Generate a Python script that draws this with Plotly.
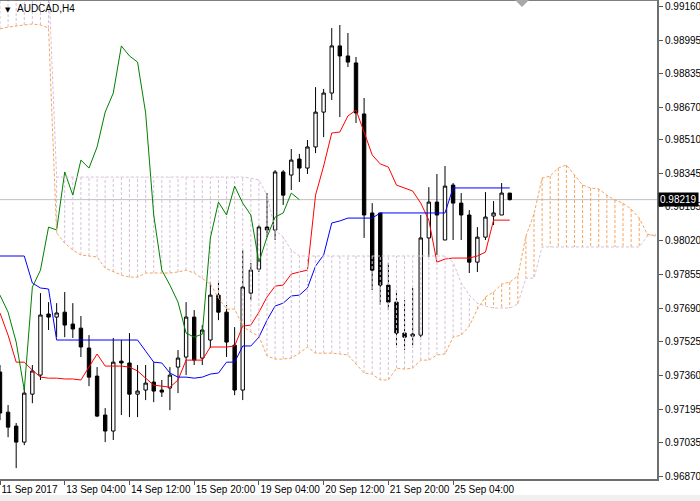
import plotly.graph_objects as go

symbol = "AUDCAD,H4"
last_price = 0.98219
chikou_shift = 26

bar_index = list(range(64))
open_ = [0.97378, 0.97182, 0.97114, 0.97036, 0.97270, 0.97363, 0.97661, 0.97646, 0.97670, 0.97612,
         0.97592, 0.97495, 0.97358, 0.97168, 0.97090, 0.97431, 0.97422, 0.97270, 0.97290, 0.97329,
         0.97290, 0.97300, 0.97402, 0.97451, 0.97646, 0.97446, 0.97534, 0.97753, 0.97670, 0.97509,
         0.97290, 0.97763, 0.97880, 0.98085, 0.98071, 0.98354, 0.98339, 0.98417, 0.98373, 0.98476,
         0.98646, 0.98739, 0.98969, 0.98920, 0.98886, 0.98637, 0.98154, 0.98154, 0.97802, 0.97719,
         0.97568, 0.97553, 0.97558, 0.98032, 0.98207, 0.98022, 0.98290, 0.98202, 0.98144, 0.97914,
         0.98036, 0.98139, 0.98144, 0.98251]
high = [0.97412, 0.97217, 0.97129, 0.97300, 0.97412, 0.97763, 0.97719, 0.97714, 0.97768, 0.97714,
        0.97651, 0.97558, 0.97402, 0.97202, 0.97544, 0.97534, 0.97568, 0.97412, 0.97412, 0.97426,
        0.97339, 0.97402, 0.97485, 0.97719, 0.97680, 0.97607, 0.97817, 0.97817, 0.97705, 0.97597,
        0.97973, 0.97910, 0.98095, 0.98251, 0.98363, 0.98363, 0.98466, 0.98442, 0.98510, 0.98768,
        0.98759, 0.99056, 0.99071, 0.99032, 0.98915, 0.98715, 0.98202, 0.97988, 0.97910, 0.97778,
        0.97729, 0.97788, 0.98144, 0.98280, 0.98344, 0.98383, 0.98300, 0.98251, 0.98168, 0.98085,
        0.98256, 0.98212, 0.98300, 0.98251]
low = [0.97143, 0.97060, 0.96909, 0.97021, 0.97226, 0.97339, 0.97583, 0.97548, 0.97548, 0.97544,
       0.97451, 0.97309, 0.97158, 0.97036, 0.97046, 0.97168, 0.97158, 0.97158, 0.97241, 0.97231,
       0.97256, 0.97192, 0.97275, 0.97363, 0.97412, 0.97412, 0.97495, 0.97631, 0.97451, 0.97265,
       0.97241, 0.97729, 0.97866, 0.98036, 0.98022, 0.98193, 0.98266, 0.98305, 0.98344, 0.98446,
       0.98524, 0.98705, 0.98622, 0.98866, 0.98593, 0.98032, 0.97778, 0.97705, 0.97680, 0.97509,
       0.97485, 0.97509, 0.97548, 0.97939, 0.97949, 0.98022, 0.98022, 0.98022, 0.97861, 0.97866,
       0.98022, 0.98095, 0.98144, 0.98215]
close = [0.97178, 0.97109, 0.97036, 0.97275, 0.97383, 0.97656, 0.97646, 0.97666, 0.97607, 0.97588,
         0.97500, 0.97353, 0.97163, 0.97090, 0.97426, 0.97422, 0.97270, 0.97285, 0.97324, 0.97285,
         0.97280, 0.97363, 0.97446, 0.97646, 0.97436, 0.97583, 0.97753, 0.97670, 0.97524, 0.97290,
         0.97792, 0.97875, 0.98085, 0.98071, 0.98354, 0.98241, 0.98412, 0.98373, 0.98476, 0.98646,
         0.98739, 0.98969, 0.98920, 0.98890, 0.98642, 0.98144, 0.97875, 0.97802, 0.97719, 0.97568,
         0.97548, 0.97563, 0.98032, 0.98207, 0.98144, 0.98285, 0.98202, 0.98144, 0.97914, 0.98036,
         0.98134, 0.98154, 0.98251, 0.98219]

tenkan = [0.97666, 0.97558, 0.97426, 0.97426, 0.97387, 0.97353, 0.97348, 0.97348, 0.97344, 0.97344,
          0.97339, 0.97402, 0.97466, 0.97407, 0.97407, 0.97407, 0.97402, 0.97383, 0.97348, 0.97314,
          0.97309, 0.97304, 0.97339, 0.97436, 0.97436, 0.97436, 0.97500, 0.97500, 0.97500, 0.97505,
          0.97602, 0.97607, 0.97670, 0.97744, 0.97797, 0.97802, 0.97856, 0.97866, 0.97875, 0.98241,
          0.98383, 0.98544, 0.98549, 0.98627, 0.98656, 0.98549, 0.98437, 0.98393, 0.98378, 0.98290,
          0.98276, 0.98261, 0.98202, 0.98119, 0.97914, 0.97929, 0.97934, 0.97934, 0.97934, 0.97944,
          0.97963, 0.98119, 0.98119, 0.98119]
kijun = [0.97944, 0.97944, 0.97944, 0.97944, 0.97812, 0.97788, 0.97783, 0.97534, 0.97534, 0.97534,
         0.97534, 0.97534, 0.97534, 0.97534, 0.97534, 0.97534, 0.97534, 0.97534, 0.97480, 0.97426,
         0.97422, 0.97373, 0.97353, 0.97353, 0.97348, 0.97353, 0.97368, 0.97373, 0.97426, 0.97426,
         0.97505, 0.97505, 0.97548, 0.97631, 0.97700, 0.97714, 0.97749, 0.97753, 0.97788, 0.97895,
         0.97949, 0.98105, 0.98115, 0.98129, 0.98129, 0.98129, 0.98129, 0.98154, 0.98154, 0.98154,
         0.98154, 0.98154, 0.98154, 0.98154, 0.98154, 0.98154, 0.98276, 0.98276, 0.98276, 0.98276,
         0.98276, 0.98276, 0.98276, 0.98276]

# Senkou spans, one value per bar slot 0..81 (already shifted forward)
span_a = [0.99052, 0.99061, 0.99066, 0.99071, 0.99076, 0.99071, 0.99056, 0.98056, 0.98007, 0.97973,
          0.97949, 0.97944, 0.97939, 0.97885, 0.97866, 0.97851, 0.97841, 0.97841, 0.97861, 0.97861,
          0.97861, 0.97861, 0.97866, 0.97875, 0.97861, 0.97836, 0.97807, 0.97739, 0.97685, 0.97685,
          0.97602, 0.97573, 0.97553, 0.97456, 0.97441, 0.97441, 0.97446, 0.97470, 0.97500, 0.97470,
          0.97470, 0.97470, 0.97466, 0.97461, 0.97417, 0.97373, 0.97368, 0.97339, 0.97339, 0.97397,
          0.97392, 0.97397, 0.97436, 0.97436, 0.97461, 0.97466, 0.97548, 0.97558, 0.97602, 0.97685,
          0.97744, 0.97768, 0.97807, 0.97817, 0.97846, 0.98041, 0.98149, 0.98324, 0.98334, 0.98373,
          0.98388, 0.98339, 0.98290, 0.98276, 0.98271, 0.98241, 0.98217, 0.98202, 0.98173, 0.98129,
          0.98051, 0.98041]
span_b = [0.99291, 0.99291, 0.99291, 0.99291, 0.99291, 0.99291, 0.99291, 0.98329, 0.98329, 0.98329,
          0.98329, 0.98329, 0.98329, 0.98329, 0.98329, 0.98329, 0.98329, 0.98329, 0.98329, 0.98329,
          0.98329, 0.98329, 0.98329, 0.98329, 0.98329, 0.98329, 0.98329, 0.98329, 0.98329, 0.98329,
          0.98329, 0.98324, 0.98315, 0.98241, 0.98071, 0.98036, 0.97973, 0.97944, 0.97944, 0.97944,
          0.97944, 0.97944, 0.97944, 0.97944, 0.97944, 0.97944, 0.97944, 0.97944, 0.97944, 0.97944,
          0.97944, 0.97944, 0.97944, 0.97944, 0.97944, 0.97944, 0.97914, 0.97812, 0.97753, 0.97714,
          0.97700, 0.97690, 0.97690, 0.97690, 0.97710, 0.97836, 0.97836, 0.97988, 0.97988, 0.97988,
          0.97988, 0.97988, 0.97988, 0.97988, 0.97988, 0.97988, 0.97988, 0.97988, 0.97988, 0.97988,
          0.98041, 0.98051]

x_tick_pos = [0, 8, 16, 24, 32, 40, 48, 56]
x_tick_labels = ["11 Sep 2017", "13 Sep 04:00", "14 Sep 12:00", "15 Sep 20:00",
                 "19 Sep 04:00", "20 Sep 12:00", "21 Sep 20:00", "25 Sep 04:00"]
y_tick_vals = [0.96870, 0.97035, 0.97195, 0.97360, 0.97525, 0.97690, 0.97855, 0.98020,
               0.98185, 0.98345, 0.98510, 0.98670, 0.98835, 0.98995, 0.99160]
y_tick_labels = ["0.96870", "0.97035", "0.97195", "0.97360", "0.97525", "0.97690", "0.97855",
                 "0.98020", "0.98185", "0.98345", "0.98510", "0.98670", "0.98835", "0.98995",
                 "0.99160"]

FONT = "Liberation Sans, Arial, sans-serif"
DASH = "3px,2px"

fig = go.Figure()

fig.add_trace(go.Candlestick(
    x=bar_index, open=open_, high=high, low=low, close=close,
    increasing=dict(fillcolor="white", line=dict(color="black", width=1)),
    decreasing=dict(fillcolor="black", line=dict(color="black", width=1)),
    whiskerwidth=0, hoverinfo="skip"))

fig.add_trace(go.Scatter(x=bar_index, y=tenkan, mode="lines",
                         line=dict(color="#ff0000", width=1), hoverinfo="skip"))
fig.add_trace(go.Scatter(x=bar_index, y=kijun, mode="lines",
                         line=dict(color="#0000ff", width=1), hoverinfo="skip"))

# cloud hatching
up_x, up_y, dn_x, dn_y = [], [], [], []
for j, (a, b) in enumerate(zip(span_a, span_b)):
    if a >= b:
        up_x += [j, j, None]
        up_y += [a, b, None]
    else:
        dn_x += [j, j, None]
        dn_y += [a, b, None]
fig.add_trace(go.Scatter(x=up_x, y=up_y, mode="lines", connectgaps=False,
                         line=dict(color="#F4A460", width=1, dash=DASH), hoverinfo="skip"))
fig.add_trace(go.Scatter(x=dn_x, y=dn_y, mode="lines", connectgaps=False,
                         line=dict(color="#D8BFD8", width=1, dash=DASH), hoverinfo="skip"))

# chikou span
fig.add_trace(go.Scatter(x=[i - chikou_shift for i in bar_index[chikou_shift:]],
                         y=close[chikou_shift:], mode="lines",
                         line=dict(color="#008000", width=1), hoverinfo="skip"))

span_x = list(range(len(span_a)))
fig.add_trace(go.Scatter(x=span_x, y=span_a, mode="lines",
                         line=dict(color="#F4A460", width=1, dash=DASH), hoverinfo="skip"))
fig.add_trace(go.Scatter(x=span_x, y=span_b, mode="lines",
                         line=dict(color="#D8BFD8", width=1, dash=DASH), hoverinfo="skip"))

fig.update_layout(
    width=700, height=501,
    margin=dict(l=0, r=43, t=0, b=22, autoexpand=False),
    paper_bgcolor="white", plot_bgcolor="white",
    showlegend=False, boxgap=0.4,
    font=dict(family=FONT, size=10, color="black"),
    xaxis=dict(range=[0, 81.2], showgrid=False, zeroline=False, rangeslider=dict(visible=False),
               tickvals=x_tick_pos, ticktext=x_tick_labels, ticks="outside", ticklen=4,
               tickangle=0, automargin=False,
               tickcolor="#555555", ticklabelposition="outside right",
               showline=True, linecolor="#6e6e6e", linewidth=2,
               tickfont=dict(family=FONT, size=10, color="black")),
    yaxis=dict(range=[0.96856, 0.99193], side="right", showgrid=False, zeroline=False,
               automargin=False,
               tickvals=y_tick_vals, ticktext=y_tick_labels, ticks="outside", ticklen=4,
               tickcolor="#555555", showline=True, linecolor="#6e6e6e", linewidth=2,
               tickfont=dict(family=FONT, size=10, color="black")),
    shapes=[
        dict(type="line", xref="paper", yref="y", x0=0, x1=1, y0=last_price, y1=last_price,
             line=dict(color="#C0C0C0", width=1), layer="below"),
        dict(type="line", xref="paper", yref="paper", x0=0, x1=1, y0=1, y1=1,
             line=dict(color="black", width=1)),
        dict(type="rect", xref="paper", yref="paper", x0=-0.01, x1=1.1, y0=-0.0459, y1=-0.0334,
             fillcolor="#F0F0F0", line=dict(width=0), layer="below"),
        dict(type="path", xref="paper", yref="paper",
             path="M 0.7839 1 L 0.8052 1 L 0.7945 0.9854 Z",
             fillcolor="#A8A8A8", line=dict(width=0)),
    ],
    annotations=[
        dict(text="▼", xref="paper", yref="paper", x=0.004, y=0.992, xanchor="left",
             yanchor="top", showarrow=False, font=dict(family="DejaVu Sans", size=7, color="black")),
        dict(text=symbol, xref="paper", yref="paper", x=0.023, y=0.998, xanchor="left",
             yanchor="top", showarrow=False, font=dict(family=FONT, size=10, color="black")),
        dict(text=f"{last_price:.5f}", xref="paper", yref="y", x=1, y=last_price, xanchor="left",
             yanchor="middle", showarrow=False, xshift=1, bgcolor="black", borderpad=1,
             font=dict(family=FONT, size=10, color="white")),
    ],
)

fig.write_html("out.html", config={"displayModeBar": False},
               post_script="document.body.style.margin='0';")
